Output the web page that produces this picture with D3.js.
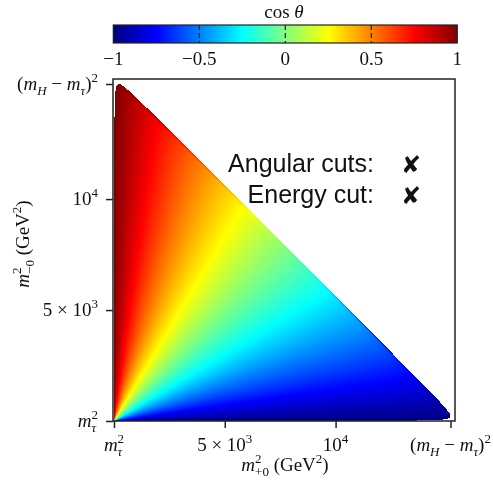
<!DOCTYPE html>
<html><head><meta charset="utf-8">
<script src="https://cdn.jsdelivr.net/npm/d3@7"></script>
<style>
html,body{margin:0;padding:0;background:#fff;}
#wrap{position:relative;width:493px;height:483px;}
canvas,svg{position:absolute;left:0;top:0;}
</style></head>
<body><div id="wrap"></div>
<script>
// ---- data / constants ----
const mH = 125.0;            // Higgs mass (GeV)
const mTau = 1.777;          // tau mass (GeV)
const mTau2 = mTau * mTau;
const mMax2 = (mH - mTau) * (mH - mTau);
const axisTickValues = [mTau2, 5000, 10000, mMax2];
const cbTickValues = [-1, -0.5, 0, 0.5, 1];
const cbTickLabels = ["\u22121", "\u22120.5", "0", "0.5", "1"];
const legendLabels = ["Angular cuts:", "Energy cut:"];
const legendMarks = ["\u2718", "\u2718"];

const W = 493, H = 483;
const frame = {x0: 113, x1: 455, y0: 79, y1: 421};
const x = d3.scaleLinear().domain([mTau2, mMax2]).range([114, 450.5]);
const y = d3.scaleLinear().domain([mTau2, mMax2]).range([421, 84]);
const cb = d3.scaleLinear().domain([-1, 1]).range([113.3, 457.3]);
const cbY0 = 25, cbY1 = 43;

function jet(t) {
  const c = v => Math.max(0, Math.min(1, v));
  return [c(1.5 - Math.abs(4 * t - 3)), c(1.5 - Math.abs(4 * t - 2)), c(1.5 - Math.abs(4 * t - 1))];
}
const color = d3.scaleLinear().domain([-1, 1]).range([0, 1]).clamp(true);

const wrap = d3.select('#wrap');
const canvas = wrap.append('canvas').attr('width', W).attr('height', H).node();
const ctx = canvas.getContext('2d');
const img = ctx.createImageData(W, H);
function setPx(px, py, rgb) {
  const i = (py * W + px) * 4;
  img.data[i] = Math.round(rgb[0] * 255);
  img.data[i + 1] = Math.round(rgb[1] * 255);
  img.data[i + 2] = Math.round(rgb[2] * 255);
  img.data[i + 3] = 255;
}
const M2 = mH * mH;
for (let px = frame.x0; px < frame.x1; px++) {
  const s1 = x.invert(px + 0.5);
  if (s1 < mTau2) continue;
  const sq = Math.sqrt(s1);
  const E3 = (s1 - mTau2) / (2 * sq);
  const E2 = (M2 - s1 - mTau2) / (2 * sq);
  if (E2 < mTau) continue;
  const p2 = Math.sqrt(E2 * E2 - mTau2);
  const s2min = (E2 + E3) ** 2 - (p2 + E3) ** 2;
  const s2max = (E2 + E3) ** 2 - (p2 - E3) ** 2;
  for (let py = frame.y0; py < frame.y1; py++) {
    const s2 = y.invert(py + 0.5);
    if (s2 < s2min || s2 > s2max) continue;
    const s12 = M2 + 2 * mTau2 - s1 - s2;
    const beta = Math.sqrt(Math.max(1e-9, 1 - 4 * mTau2 / s12));
    let c = (s2 - s1) / (beta * (s1 + s2 - 2 * mTau2));
    setPx(px, py, jet(color(c)));
  }
}
// colorbar
for (let px = Math.round(cb.range()[0]); px < Math.round(cb.range()[1]); px++) {
  const v = cb.invert(px + 0.5);
  for (let py = cbY0; py < cbY1; py++) setPx(px, py, jet(color(v)));
}
ctx.putImageData(img, 0, 0);

const svg = wrap.append('svg').attr('width', W).attr('height', H);
const serif = "'Liberation Serif','Times New Roman',serif";
const sans = "'Liberation Sans',Arial,Helvetica,sans-serif";

// math text helper
function mtext(parent, px, py, opts, parts) {
  const size = opts.size || 19, small = Math.round(size * 0.7);
  const supOff = -0.42 * size, subOff = 0.28 * size;
  const t = parent.append('text').attr('x', px).attr('y', py)
    .attr('text-anchor', opts.anchor || 'middle')
    .style('font-family', serif).style('font-size', size + 'px').attr('fill', '#111');
  if (opts.rotate) t.attr('transform', `rotate(-90,${px},${py})`);
  let cur = 0, pend = 0;
  parts.forEach(p => {
    if (p.stack) {
      const a = t.append('tspan').text(p.sup).style('font-size', small + 'px')
        .attr('dy', supOff - cur).attr('dx', pend);
      cur = supOff; pend = 0;
      const w1 = a.node().getComputedTextLength();
      const b = t.append('tspan').text(p.sub).style('font-size', small + 'px')
        .attr('dy', subOff - cur).attr('dx', -w1);
      if (p.subItalic) b.style('font-style', 'italic');
      cur = subOff;
      const w2 = b.node().getComputedTextLength();
      pend = Math.max(0, w1 - w2);
    } else {
      const off = p.v === 'sup' ? supOff : p.v === 'sub' ? subOff : 0;
      const s = t.append('tspan').text(p.s).attr('dy', off - cur).attr('dx', pend);
      pend = 0; cur = off;
      if (p.v) s.style('font-size', small + 'px');
      if (p.i) s.style('font-style', 'italic');
    }
  });
  return t;
}

const labelParts = [
  [{s: 'm', i: true}, {stack: true, sup: '2', sub: '\u03c4', subItalic: true}],
  [{s: '5 \u00d7 10'}, {s: '3', v: 'sup'}],
  [{s: '10'}, {s: '4', v: 'sup'}],
  [{s: '('}, {s: 'm', i: true}, {s: 'H', i: true, v: 'sub'}, {s: ' \u2212 '}, {s: 'm', i: true},
   {s: '\u03c4', i: true, v: 'sub'}, {s: ')'}, {s: '2', v: 'sup'}]
];

// frame
svg.append('rect').attr('x', frame.x0).attr('y', frame.y0)
  .attr('width', frame.x1 - frame.x0).attr('height', frame.y1 - frame.y0)
  .attr('fill', 'none').attr('stroke', '#222').attr('stroke-width', 1.5);

// axes ticks
const gx = svg.append('g').attr('transform', `translate(0,${frame.y1})`)
  .call(d3.axisBottom(x).tickValues(axisTickValues).tickFormat('').tickSize(7).tickSizeOuter(0));
const gy = svg.append('g').attr('transform', `translate(${frame.x0},0)`)
  .call(d3.axisLeft(y).tickValues(axisTickValues).tickFormat('').tickSize(7).tickSizeOuter(0));
[gx, gy].forEach(g => {
  g.select('.domain').remove();
  g.selectAll('.tick line').attr('stroke', '#222').attr('stroke-width', 1.5);
});

axisTickValues.forEach((v, i) => {
  mtext(svg, x(v), 451, {anchor: 'middle'}, labelParts[i]);
  mtext(svg, 98, y(v) + 6, {anchor: 'end'}, labelParts[i]);
});

// axis titles
mtext(svg, 285, 471, {anchor: 'middle'},
  [{s: 'm', i: true}, {stack: true, sup: '2', sub: '+0'}, {s: ' (GeV'}, {s: '2', v: 'sup'}, {s: ')'}]);
mtext(svg, 29, 244, {anchor: 'middle', rotate: true},
  [{s: 'm', i: true}, {stack: true, sup: '2', sub: '\u22120'}, {s: ' (GeV'}, {s: '2', v: 'sup'}, {s: ')'}]);

// colorbar frame and ticks
svg.append('rect').attr('x', cb.range()[0]).attr('y', cbY0)
  .attr('width', cb.range()[1] - cb.range()[0]).attr('height', cbY1 - cbY0)
  .attr('fill', 'none').attr('stroke', '#222').attr('stroke-width', 1.2);
svg.selectAll('.cbt').data(cbTickValues.slice(1, -1)).join('line')
  .attr('x1', d => cb(d)).attr('x2', d => cb(d)).attr('y1', cbY0).attr('y2', cbY1)
  .attr('stroke', '#222').attr('stroke-width', 1.2).attr('stroke-dasharray', '5,3');
cbTickValues.forEach((v, i) => {
  mtext(svg, cb(v), 65, {anchor: 'middle'}, [{s: cbTickLabels[i]}]);
});
mtext(svg, 284, 18, {anchor: 'middle'}, [{s: 'cos '}, {s: '\u03b8', i: true}]);

// legend
legendLabels.forEach((l, i) => {
  svg.append('text').attr('x', 374).attr('y', 172 + i * 31).attr('text-anchor', 'end')
    .style('font-family', sans).style('font-size', '25px').attr('fill', '#111').text(l);
  svg.append('text').attr('x', 411).attr('y', 173 + i * 31).attr('text-anchor', 'middle')
    .style('font-family', "'DejaVu Sans',sans-serif").style('font-size', '24px')
    .attr('fill', '#111').text(legendMarks[i]);
});
</script></body></html>
